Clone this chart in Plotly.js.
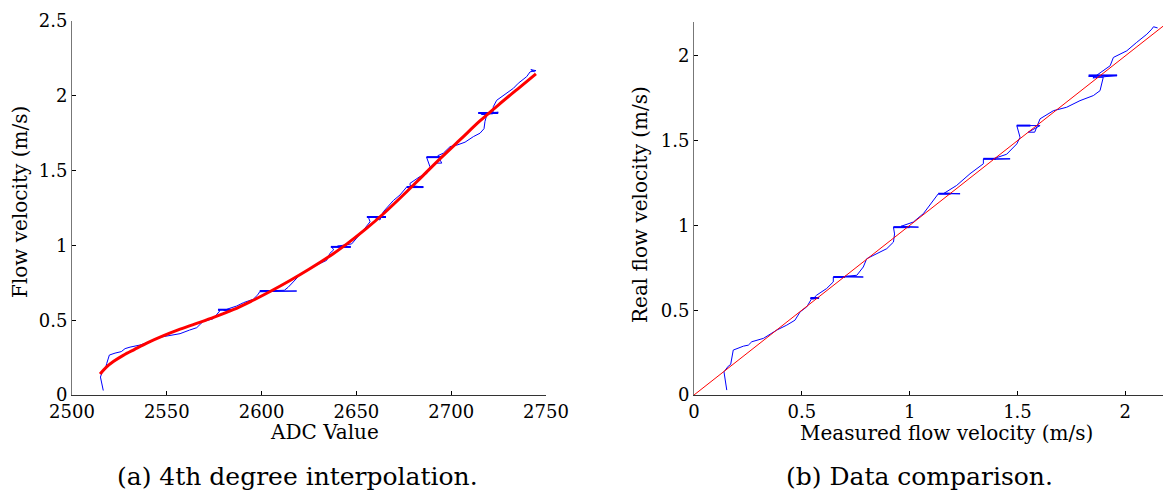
<!DOCTYPE html>
<html>
<head>
<meta charset="utf-8">
<script src="https://cdn.plot.ly/plotly-3.0.1.min.js"></script>
<style>html,body{margin:0;padding:0;background:#fff;}#chart{width:1163px;height:493px;}</style>
</head>
<body>
<div id="chart"></div>
<script>
// ---- (a) raw data: ADC value vs flow velocity ----
var rawAdc = [2516.5,2515.5,2515,2516,2517.5,2518.3,2519.7,2522.7,2526,2528,2530.6,2535.9,2541,2546.4,2551.7,2557,2562,2565.8,2569,2574.5,2578,
  2577,2584,2580,2583.3,2586.9,2590.4,2595.6,2598,2599,
  2618.5,2600,2612,2614,2616.7,2620,2627,2634.3,2636,2638,
  2637,2647,2640,2647.5,2650.1,2653.6,2657.2,
  2656.3,2665.6,2660,2662.4,2664.2,2669.5,2673,
  2676.5,2685.3,2678.3,2678.3,2683.5,2687.1,2688.8,
  2687,2695,2692,2695,2693,2695.8,2699.4,2702.9,2707.3,2711.7,2715.2,2717.3,2717.8,2718.7,
  2714.3,2724.8,2716,2722,2722.2,2724,2729.3,2732.8,2735.4,2739.8,2741.6,2744.7,2742,2744];
var rawVel = [0.03,0.08,0.12,0.155,0.17,0.21,0.267,0.28,0.29,0.31,0.32,0.334,0.356,0.386,0.40,0.41,0.434,0.45,0.49,0.51,0.563,
  0.57,0.57,0.565,0.58,0.595,0.617,0.64,0.67,0.69,
  0.695,0.695,0.70,0.72,0.757,0.80,0.857,0.90,0.947,0.97,
  0.99,0.99,0.995,1.01,1.047,1.10,1.158,
  1.19,1.19,1.185,1.17,1.225,1.30,1.337,
  1.39,1.39,1.40,1.415,1.46,1.48,1.526,
  1.59,1.59,1.55,1.55,1.60,1.616,1.66,1.67,1.69,1.727,1.75,1.78,1.827,1.87,
  1.885,1.89,1.875,1.88,1.927,1.97,2.017,2.05,2.084,2.128,2.16,2.168,2.175,2.16];

// dense horizontal bursts of samples at each set-point (a)
var spikeAdcA = [2577,2584,null,2599,2606,null,2636.5,2647,null,2655.5,2665.6,null,2676.5,2685.3,null,2687,2695,null,2714.3,2724.8];
var spikeVelA = [0.57,0.57,null,0.695,0.695,null,0.99,0.99,null,1.19,1.19,null,1.39,1.39,null,1.59,1.59,null,1.885,1.885];

// ---- (a) 4th degree fit ----
var fitAdc = [2514.8,2518,2522,2527,2533,2540,2548,2556,2565,2575,2585,2595,2605,2615,2625,2635,2645,2655,2665,2675,2685,2695,2705,2715,2725,2735,2744.7];
var fitVel = [0.14,0.185,0.225,0.265,0.305,0.35,0.395,0.435,0.475,0.52,0.57,0.63,0.695,0.765,0.84,0.92,1.01,1.11,1.22,1.34,1.465,1.59,1.71,1.83,1.94,2.045,2.146];

// ---- (b) measured vs real flow velocity ----
var measVel = [0.152,0.144,0.139,0.159,0.170,0.182,0.229,0.252,0.268,0.322,0.384,0.43,0.468,0.492,0.523,0.546,
  0.54,0.58,0.55,0.569,0.615,0.646,
  0.646,0.785,0.70,0.755,0.785,0.801,0.847,0.894,0.925,0.93,
  0.925,1.041,0.96,1.017,1.064,1.102,
  1.133,1.234,1.16,1.218,1.28,1.342,
  1.342,1.466,1.38,1.45,1.497,1.512,
  1.497,1.605,1.55,1.58,1.605,1.667,1.728,1.79,1.852,1.883,1.891,1.898,
  1.83,1.962,1.85,1.93,1.945,2.007,2.053,2.1,2.123,2.131,2.15];
var realVel = [0.029,0.088,0.137,0.17,0.18,0.265,0.288,0.294,0.314,0.334,0.383,0.412,0.441,0.49,0.52,0.569,
  0.57,0.575,0.565,0.589,0.628,0.667,
  0.696,0.696,0.70,0.706,0.755,0.804,0.834,0.863,0.902,0.95,
  0.99,0.99,0.995,1.02,1.07,1.138,
  1.187,1.187,1.19,1.236,1.305,1.364,
  1.393,1.393,1.39,1.42,1.481,1.52,
  1.589,1.589,1.55,1.55,1.629,1.677,1.697,1.736,1.766,1.795,1.844,1.874,
  1.88,1.885,1.87,1.942,1.991,2.03,2.08,2.128,2.158,2.172,2.165];

var spikeMeasB = [0.54,0.58,null,0.646,0.70,null,0.925,1.0,null,1.133,1.19,null,1.342,1.40,null,1.497,1.56,null,1.83,1.962];
var spikeRealB = [0.572,0.572,null,0.696,0.696,null,0.99,0.99,null,1.187,1.187,null,1.393,1.393,null,1.589,1.589,null,1.885,1.885];

// ---- (b) reference line y = x ----
var idealX = [0, 2.2];
var idealY = [0, 2.2];

var xTicksA = [2500,2550,2600,2650,2700,2750];
var yTicksA = [0,0.5,1,1.5,2,2.5];
var yTickTextA = ['0','0.5','1','1.5','2','2.5'];
var xTicksB = [0,0.5,1,1.5,2];
var xTickTextB = ['0','0.5','1','1.5','2'];
var yTicksB = [0,0.5,1,1.5,2];
var yTickTextB = ['0','0.5','1','1.5','2'];

var W = 1163, H = 493;
var FONT = 'DejaVu Serif, Liberation Serif, serif';

var traces = [
  {x: rawAdc, y: rawVel, xaxis:'x', yaxis:'y', mode:'lines', line:{color:'#0000ff', width:1}, hoverinfo:'skip'},
  {x: spikeAdcA, y: spikeVelA, xaxis:'x', yaxis:'y', mode:'lines', line:{color:'#0000ff', width:2}, connectgaps:false, hoverinfo:'skip'},
  {x: fitAdc, y: fitVel, xaxis:'x', yaxis:'y', mode:'lines', line:{color:'#ff0000', width:3, shape:'spline'}, hoverinfo:'skip'},
  {x: measVel, y: realVel, xaxis:'x2', yaxis:'y2', mode:'lines', line:{color:'#0000ff', width:1}, hoverinfo:'skip'},
  {x: spikeMeasB, y: spikeRealB, xaxis:'x2', yaxis:'y2', mode:'lines', line:{color:'#0000ff', width:2}, connectgaps:false, hoverinfo:'skip'},
  {x: idealX, y: idealY, xaxis:'x2', yaxis:'y2', mode:'lines', line:{color:'#ff0000', width:1}, hoverinfo:'skip'}
];

function ax(extra){
  var base = {showgrid:false, zeroline:false, showline:true, linecolor:'#333', linewidth:1,
    ticks:'inside', ticklen:4, tickwidth:1, tickcolor:'#000', mirror:false,
    tickfont:{family:FONT, size:18, color:'#000'}, tickmode:'array', fixedrange:true};
  for (var k in extra) base[k] = extra[k];
  return base;
}

var yb = 1 - 395/H;
var layout = {
  width: W, height: H,
  margin:{l:0, r:0, t:0, b:0, pad:0},
  paper_bgcolor:'#fff', plot_bgcolor:'#fff',
  showlegend:false,
  xaxis: ax({domain:[72/W, 546/W], range:[2500,2750], tickvals:xTicksA, ticktext:xTicksA.map(String), anchor:'y'}),
  yaxis: ax({domain:[yb, 1-21/H], range:[0,2.5], tickvals:yTicksA, ticktext:yTickTextA, anchor:'x', linecolor:'#777'}),
  xaxis2: ax({domain:[694/W, 1], range:[0,2.175], tickvals:xTicksB, ticktext:xTickTextB, anchor:'y2'}),
  yaxis2: ax({domain:[yb, 1-22/H], range:[0,2.2], tickvals:yTicksB, ticktext:yTickTextB, anchor:'x2', linecolor:'#777'}),
  annotations: [
    {text:'ADC Value', xref:'paper', yref:'paper', x:324/W, y:1-432/H, xanchor:'center', yanchor:'middle', showarrow:false, font:{family:FONT, size:20, color:'#000'}},
    {text:'Flow velocity (m/s)', xref:'paper', yref:'paper', x:20/W, y:1-202/H, xanchor:'center', yanchor:'middle', textangle:-90, showarrow:false, font:{family:FONT, size:20, color:'#000'}},
    {text:'Measured flow velocity (m/s)', xref:'paper', yref:'paper', x:946/W, y:1-433/H, xanchor:'center', yanchor:'middle', showarrow:false, font:{family:FONT, size:20, color:'#000'}},
    {text:'Real flow velocity (m/s)', xref:'paper', yref:'paper', x:640/W, y:1-205/H, xanchor:'center', yanchor:'middle', textangle:-90, showarrow:false, font:{family:FONT, size:20, color:'#000'}},
    {text:'(a) 4th degree interpolation.', xref:'paper', yref:'paper', x:297/W, y:1-476/H, xanchor:'center', yanchor:'middle', showarrow:false, font:{family:FONT, size:25, color:'#000'}},
    {text:'(b) Data comparison.', xref:'paper', yref:'paper', x:920/W, y:1-476/H, xanchor:'center', yanchor:'middle', showarrow:false, font:{family:FONT, size:25, color:'#000'}}
  ]
};

Plotly.newPlot('chart', traces, layout, {staticPlot:true, displayModeBar:false});
</script>
</body>
</html>
